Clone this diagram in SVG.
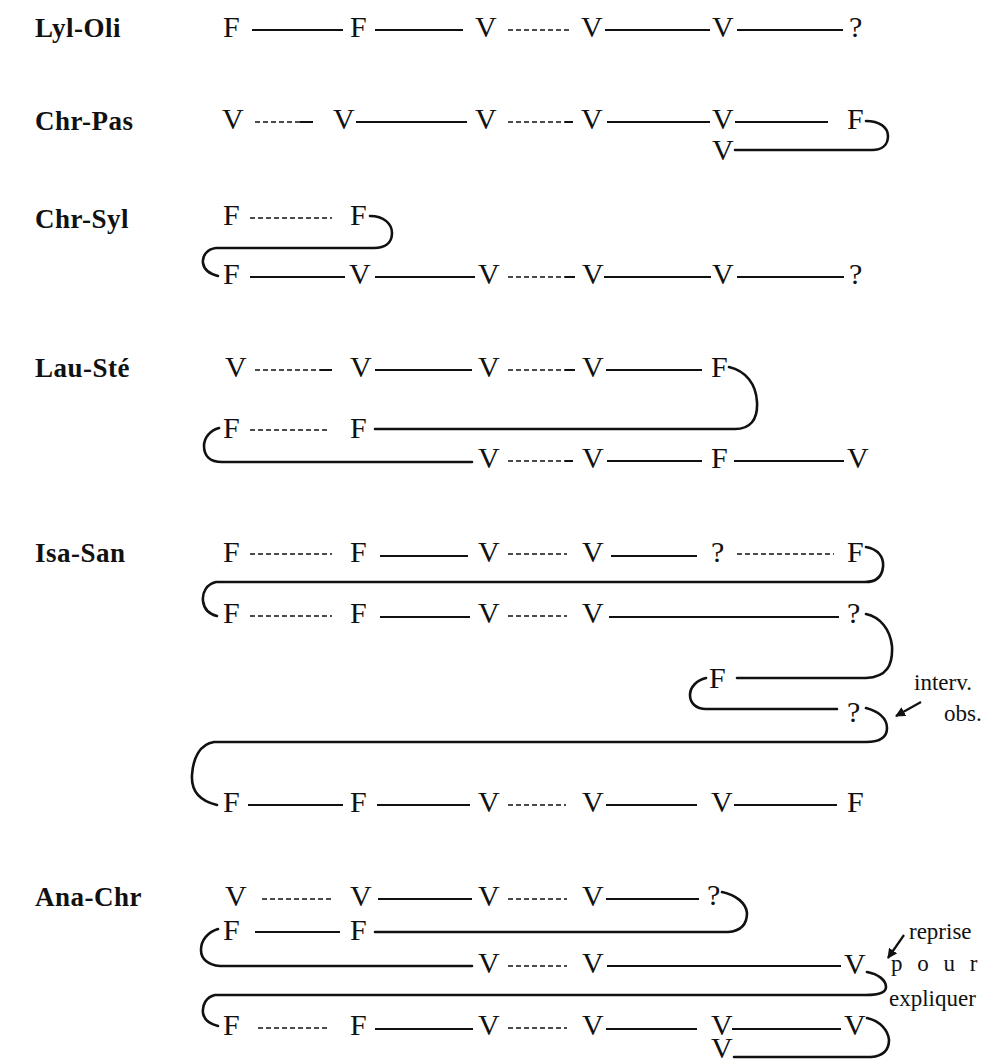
<svg xmlns="http://www.w3.org/2000/svg" width="994" height="1064" viewBox="0 0 994 1064">
<style>
text{font-family:"Liberation Serif","Times New Roman",serif;fill:#111}
.n{font-size:30px}
.lbl{font-size:27px;font-weight:bold;letter-spacing:0.5px}
.note{font-size:23px}
.s{stroke:#111;stroke-width:2;fill:none}
.d{stroke:#111;stroke-width:1.6;stroke-dasharray:5 3;fill:none}
.c{stroke:#111;stroke-width:2.6;fill:none;stroke-linecap:round}
.a{stroke:#111;stroke-width:2.2;fill:none}
</style>
<defs>
<marker id="ah" viewBox="0 0 10 10" refX="9" refY="5" markerWidth="10" markerHeight="10" markerUnits="userSpaceOnUse" orient="auto"><path d="M0,0 L10,5 L0,10 z" fill="#111"/></marker>
</defs>
<g id="labels">
<text class="lbl" x="35" y="37">Lyl-Oli</text>
<text class="lbl" x="35" y="130">Chr-Pas</text>
<text class="lbl" x="35" y="228">Chr-Syl</text>
<text class="lbl" x="35" y="377">Lau-Sté</text>
<text class="lbl" x="35" y="562">Isa-San</text>
<text class="lbl" x="35" y="906">Ana-Chr</text>
</g>
<g id="connectors">
<!-- Lyl-Oli -->
<line class="s" x1="252" y1="30" x2="343" y2="30"/>
<line class="s" x1="375" y1="30" x2="463" y2="30"/>
<line class="d" x1="508" y1="30" x2="572" y2="30"/>
<line class="s" x1="605" y1="30" x2="710" y2="30"/>
<line class="s" x1="737" y1="30" x2="843" y2="30"/>
<!-- Chr-Pas -->
<line class="d" x1="255" y1="122" x2="300" y2="122"/>
<line class="s" x1="300" y1="122" x2="313" y2="122"/>
<line class="s" x1="356" y1="122" x2="467" y2="122"/>
<line class="d" x1="508" y1="122" x2="565" y2="122"/>
<line class="s" x1="565" y1="122" x2="573" y2="122"/>
<line class="s" x1="607" y1="122" x2="710" y2="122"/>
<line class="s" x1="735" y1="122" x2="828" y2="122"/>
<path class="c" d="M866 121 C879 121,888 127,888 136 C888 145,882 150,872 150 L735 150"/>
<!-- Chr-Syl -->
<line class="d" x1="250" y1="218" x2="332" y2="218"/>
<path class="c" d="M370 216 C384 216,392 224,392 233 C392 243,385 248,374 248 L216 248 C207 249,202 256,203 263 C204 270,210 274,218 276"/>
<line class="s" x1="250" y1="277" x2="345" y2="277"/>
<line class="s" x1="375" y1="277" x2="475" y2="277"/>
<line class="d" x1="508" y1="277" x2="565" y2="277"/>
<line class="s" x1="565" y1="277" x2="575" y2="277"/>
<line class="s" x1="604" y1="277" x2="711" y2="277"/>
<line class="s" x1="737" y1="277" x2="844" y2="277"/>
<!-- Lau-Sté -->
<line class="d" x1="255" y1="370" x2="320" y2="370"/>
<line class="s" x1="320" y1="370" x2="332" y2="370"/>
<line class="s" x1="375" y1="370" x2="472" y2="370"/>
<line class="d" x1="508" y1="370" x2="565" y2="370"/>
<line class="s" x1="565" y1="370" x2="575" y2="370"/>
<line class="s" x1="606" y1="370" x2="702" y2="370"/>
<path class="c" d="M729 367 C746 371,756 384,757 402 C758 420,750 429,735 429 L375 429"/>
<line class="d" x1="250" y1="430" x2="327" y2="430"/>
<path class="c" d="M219 428 C211 430,204 437,204 446 C204 456,210 462,222 462 L472 462"/>
<line class="d" x1="508" y1="461" x2="565" y2="461"/>
<line class="s" x1="565" y1="461" x2="573" y2="461"/>
<line class="s" x1="607" y1="461" x2="702" y2="461"/>
<line class="s" x1="734" y1="461" x2="844" y2="461"/>
<!-- Isa-San -->
<line class="d" x1="250" y1="554" x2="332" y2="554"/>
<line class="s" x1="380" y1="556" x2="468" y2="556"/>
<line class="d" x1="508" y1="554" x2="567" y2="554"/>
<line class="s" x1="611" y1="556" x2="697" y2="556"/>
<line class="d" x1="737" y1="554" x2="834" y2="554"/>
<path class="c" d="M866 547 C878 549,884 557,883 567 C882 577,876 582,865 582 L216 582 C207 584,202 592,203 601 C204 609,209 614,217 616"/>
<line class="d" x1="250" y1="616" x2="332" y2="616"/>
<line class="s" x1="380" y1="617" x2="470" y2="617"/>
<line class="d" x1="508" y1="616" x2="567" y2="616"/>
<line class="s" x1="609" y1="617" x2="839" y2="617"/>
<path class="c" d="M866 614 C880 617,890 629,892 646 C893 665,887 677,866 678 L737 678"/>
<path class="c" d="M706 678 C697 680,690 687,690 695 C690 703,696 709,706 709 L837 709"/>
<path class="c" d="M866 708 C878 711,887 718,887 728 C887 737,880 742,866 742 L214 742 C200 744,193 758,192 775 C191 791,200 801,217 805"/>
<line class="s" x1="248" y1="805" x2="343" y2="805"/>
<line class="s" x1="377" y1="805" x2="470" y2="805"/>
<line class="d" x1="508" y1="805" x2="566" y2="805"/>
<line class="s" x1="606" y1="805" x2="697" y2="805"/>
<line class="s" x1="734" y1="805" x2="837" y2="805"/>
<line class="a" x1="921" y1="702" x2="896" y2="716" marker-end="url(#ah)"/>
<!-- Ana-Chr -->
<line class="d" x1="262" y1="899" x2="332" y2="899"/>
<line class="s" x1="378" y1="899" x2="472" y2="899"/>
<line class="d" x1="508" y1="899" x2="567" y2="899"/>
<line class="s" x1="606" y1="899" x2="699" y2="899"/>
<path class="c" d="M722 892 C736 895,746 903,747 913 C747 924,741 931,728 932 L375 932"/>
<line class="s" x1="255" y1="932" x2="340" y2="932"/>
<path class="c" d="M218 929 C208 932,201 940,201 950 C201 959,208 965,220 966 L472 966"/>
<line class="d" x1="508" y1="966" x2="567" y2="966"/>
<line class="s" x1="607" y1="966" x2="841" y2="966"/>
<path class="c" d="M867 972 C878 974,886 980,886 987 C886 993,879 995,866 995 L215 995 C206 997,202 1005,203 1013 C204 1020,210 1024,218 1026"/>
<line class="d" x1="258" y1="1028" x2="328" y2="1028"/>
<line class="s" x1="375" y1="1029" x2="473" y2="1029"/>
<line class="d" x1="508" y1="1028" x2="567" y2="1028"/>
<line class="s" x1="606" y1="1029" x2="697" y2="1029"/>
<line class="s" x1="732" y1="1029" x2="841" y2="1029"/>
<path class="c" d="M867 1018 C880 1021,888 1030,889 1040 C889 1051,883 1056,871 1057 L734 1057"/>
<line class="a" x1="904" y1="935" x2="888" y2="958" marker-end="url(#ah)"/>
</g>
<g id="lyl-oli">
<g id="lo1"><text class="n" x="223" y="37">F</text></g>
<g id="lo2"><text class="n" x="350" y="37">F</text></g>
<g id="lo3"><text class="n" x="475" y="37">V</text></g>
<g id="lo4"><text class="n" x="581" y="37">V</text></g>
<g id="lo5"><text class="n" x="712" y="37">V</text></g>
<g id="lo6"><text class="n" x="849" y="37">?</text></g>
</g>
<g id="chr-pas">
<g id="cp1"><text class="n" x="222" y="129">V</text></g>
<g id="cp2"><text class="n" x="333" y="129">V</text></g>
<g id="cp3"><text class="n" x="475" y="129">V</text></g>
<g id="cp4"><text class="n" x="581" y="129">V</text></g>
<g id="cp5"><text class="n" x="712" y="129">V</text></g>
<g id="cp6"><text class="n" x="847" y="129">F</text></g>
<g id="cp7"><text class="n" x="712" y="160">V</text></g>
</g>
<g id="chr-syl">
<g id="cs1"><text class="n" x="223" y="225">F</text></g>
<g id="cs2"><text class="n" x="350" y="225">F</text></g>
<g id="cs3"><text class="n" x="223" y="284">F</text></g>
<g id="cs4"><text class="n" x="349" y="284">V</text></g>
<g id="cs5"><text class="n" x="478" y="284">V</text></g>
<g id="cs6"><text class="n" x="582" y="284">V</text></g>
<g id="cs7"><text class="n" x="712" y="284">V</text></g>
<g id="cs8"><text class="n" x="849" y="284">?</text></g>
</g>
<g id="lau-ste">
<g id="ls1"><text class="n" x="225" y="377">V</text></g>
<g id="ls2"><text class="n" x="350" y="377">V</text></g>
<g id="ls3"><text class="n" x="478" y="377">V</text></g>
<g id="ls4"><text class="n" x="582" y="377">V</text></g>
<g id="ls5"><text class="n" x="711" y="377">F</text></g>
<g id="ls6"><text class="n" x="223" y="438">F</text></g>
<g id="ls7"><text class="n" x="350" y="438">F</text></g>
<g id="ls8"><text class="n" x="478" y="468">V</text></g>
<g id="ls9"><text class="n" x="582" y="468">V</text></g>
<g id="ls10"><text class="n" x="711" y="468">F</text></g>
<g id="ls11"><text class="n" x="847" y="468">V</text></g>
</g>
<g id="isa-san">
<g id="is1"><text class="n" x="223" y="562">F</text></g>
<g id="is2"><text class="n" x="350" y="562">F</text></g>
<g id="is3"><text class="n" x="478" y="562">V</text></g>
<g id="is4"><text class="n" x="582" y="562">V</text></g>
<g id="is5"><text class="n" x="711" y="562">?</text></g>
<g id="is6"><text class="n" x="847" y="562">F</text></g>
<g id="is7"><text class="n" x="223" y="623">F</text></g>
<g id="is8"><text class="n" x="350" y="623">F</text></g>
<g id="is9"><text class="n" x="478" y="623">V</text></g>
<g id="is10"><text class="n" x="582" y="623">V</text></g>
<g id="is11"><text class="n" x="847" y="623">?</text></g>
<g id="is12"><text class="n" x="709" y="688">F</text></g>
<g id="is13"><text class="n" x="847" y="722">?</text></g>
<g id="is14"><text class="n" x="223" y="812">F</text></g>
<g id="is15"><text class="n" x="350" y="812">F</text></g>
<g id="is16"><text class="n" x="478" y="812">V</text></g>
<g id="is17"><text class="n" x="582" y="812">V</text></g>
<g id="is18"><text class="n" x="711" y="812">V</text></g>
<g id="is19"><text class="n" x="847" y="812">F</text></g>
<g id="is-note"><text class="note" x="914" y="690">interv.</text><text class="note" x="944" y="721">obs.</text></g>
</g>
<g id="ana-chr">
<g id="ac1"><text class="n" x="225" y="906">V</text></g>
<g id="ac2"><text class="n" x="350" y="906">V</text></g>
<g id="ac3"><text class="n" x="478" y="906">V</text></g>
<g id="ac4"><text class="n" x="582" y="906">V</text></g>
<g id="ac5"><text class="n" x="707" y="905">?</text></g>
<g id="ac6"><text class="n" x="223" y="940">F</text></g>
<g id="ac7"><text class="n" x="350" y="940">F</text></g>
<g id="ac8"><text class="n" x="478" y="973">V</text></g>
<g id="ac9"><text class="n" x="582" y="973">V</text></g>
<g id="ac10"><text class="n" x="844" y="974">V</text></g>
<g id="ac11"><text class="n" x="223" y="1035">F</text></g>
<g id="ac12"><text class="n" x="350" y="1035">F</text></g>
<g id="ac13"><text class="n" x="478" y="1035">V</text></g>
<g id="ac14"><text class="n" x="582" y="1035">V</text></g>
<g id="ac15"><text class="n" x="711" y="1035">V</text></g>
<g id="ac16"><text class="n" x="844" y="1035">V</text></g>
<g id="ac17"><text class="n" x="711" y="1058">V</text></g>
<g id="ac-note"><text class="note" x="909" y="939">reprise</text><text class="note" x="891" y="971" letter-spacing="4.5">p o u r</text><text class="note" x="889" y="1006">expliquer</text></g>
</g>
</svg>
